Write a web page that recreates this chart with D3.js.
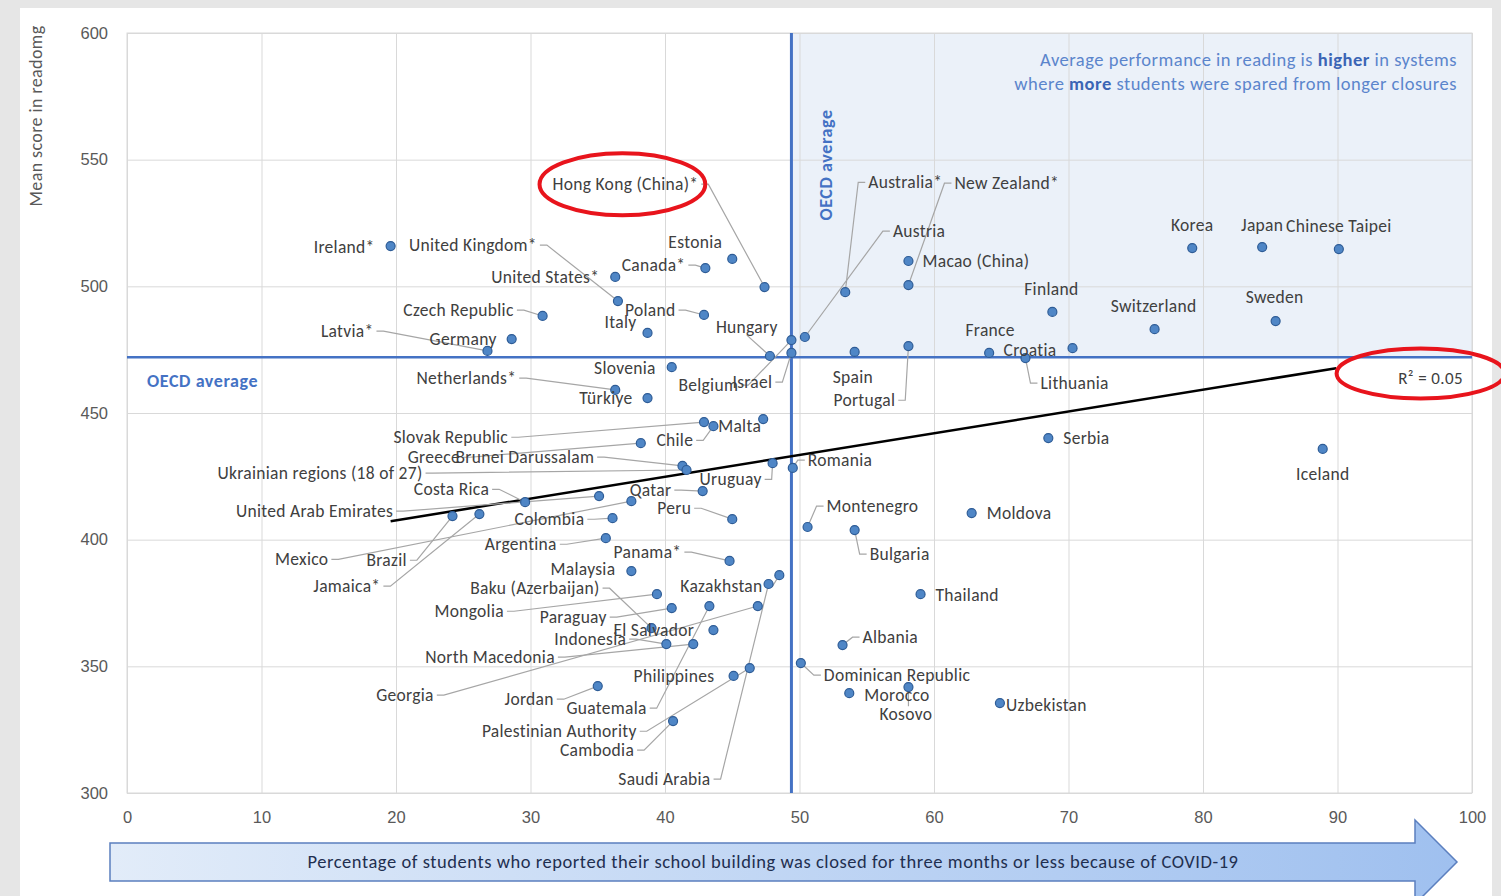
<!DOCTYPE html>
<html>
<head>
<meta charset="utf-8">
<script src="https://cdn.jsdelivr.net/npm/d3@7"></script>
<style>
  body { margin: 0; background: #e6e6e6; }
  svg { display: block; font-family: Carlito, Calibri, Lato, sans-serif; }
  .tick text { fill: #595959; font-size: 16.5px; }
  .lbl { fill: #404040; font-size: 17.5px; letter-spacing: 0.3px; }
</style>
</head>
<body>
<svg id="chart" width="1501" height="896"></svg>
<script>
// ---- data ----
const countries = [
  "Ireland*", "United Kingdom*", "United States*", "Canada*", "Estonia", "Hong Kong (China)*",
  "Czech Republic", "Poland", "Italy", "Germany", "Latvia*", "Hungary", "Belgium", "Israel",
  "Slovenia", "Netherlands*", "Türkiye", "Slovak Republic", "Chile", "Malta", "Greece",
  "Brunei Darussalam", "Ukrainian regions (18 of 27)", "Uruguay", "Romania", "Costa Rica",
  "Qatar", "United Arab Emirates", "Peru", "Colombia", "Mexico", "Montenegro", "Moldova",
  "Argentina", "Brazil", "Jamaica*", "Panama*", "Bulgaria", "Malaysia", "Kazakhstan",
  "Saudi Arabia", "Baku (Azerbaijan)", "Thailand", "Mongolia", "Paraguay", "El Salvador",
  "Indonesia", "Albania", "North Macedonia", "Philippines", "Dominican Republic", "Georgia",
  "Jordan", "Morocco", "Kosovo", "Uzbekistan", "Guatemala", "Palestinian Authority",
  "Cambodia", "Australia*", "New Zealand*", "Austria", "Macao (China)", "Korea", "Japan",
  "Chinese Taipei", "Finland", "Switzerland", "Sweden", "France", "Croatia", "Lithuania",
  "Spain", "Portugal", "Serbia", "Iceland"
];
// % of students whose school was closed three months or less
const closedShort = [
  19.6, 36.5, 36.3, 43.0, 45.0, 47.4,
  30.9, 42.9, 38.7, 28.6, 26.8, 47.8, 49.4, 49.4,
  40.5, 36.3, 38.7, 42.9, 43.6, 47.3, 38.2,
  41.3, 41.6, 48.0, 49.5, 29.6,
  42.8, 35.1, 45.0, 36.1, 37.5, 50.6, 62.8,
  35.6, 24.2, 26.2, 44.8, 54.1, 37.5, 48.5,
  47.7, 39.0, 59.0, 39.4, 40.5, 43.6,
  40.1, 53.2, 42.1, 45.1, 50.1, 46.9,
  35.0, 53.7, 58.1, 64.9, 43.3, 46.3,
  40.6, 53.4, 58.1, 50.4, 58.1, 79.2, 84.4,
  90.1, 68.8, 76.4, 85.4, 64.1, 70.3, 66.8,
  54.1, 58.1, 68.5, 88.9
];
// mean score in reading
const readScore = [
  515.9, 494.2, 503.7, 507.2, 510.8, 499.7,
  488.3, 488.7, 481.6, 479.2, 474.5, 472.5, 478.8, 473.7,
  468.1, 459.1, 455.9, 446.4, 444.8, 447.6, 438.1,
  429.1, 427.5, 430.2, 428.3, 414.8,
  419.2, 417.2, 408.1, 408.5, 415.2, 405.0, 410.5,
  400.6, 409.3, 410.1, 391.6, 403.8, 387.6, 386.0,
  382.5, 365.1, 378.5, 378.5, 373.0, 364.3,
  358.8, 358.4, 358.8, 346.2, 351.3, 373.8,
  342.2, 339.4, 341.8, 335.5, 373.8, 349.3,
  328.4, 497.7, 500.5, 480.0, 510.0, 515.1, 515.5,
  514.7, 489.9, 483.1, 486.3, 473.7, 475.6, 471.7,
  474.1, 476.4, 440.1, 435.8
];
const xTicks = [0, 10, 20, 30, 40, 50, 60, 70, 80, 90, 100];
const yTicks = [300, 350, 400, 450, 500, 550, 600];
const oecdX = 49.4;
const oecdY = 472;
const trendX = [19.6, 89.9];
const trendY = [407.3, 467.7];
const r2Label = "R² = 0.05";

// ---- label placement: pixel offset from point, anchor, leader line ----
const labelLayout = {
  "Ireland*": [-16, 1, "end", 0], "United Kingdom*": [-209, -56, "start", 1],
  "United States*": [-16, 0, "end", 0], "Canada*": [-20, -3, "end", 1],
  "Estonia": [-37, -17, "middle", 0], "Hong Kong (China)*": [-212, -103, "start", 1],
  "Czech Republic": [-29, -6, "end", 1], "Poland": [-79, -5, "start", 1],
  "Italy": [-11, -11, "end", 0], "Germany": [-15, 0, "end", 0],
  "Latvia*": [-114, -20, "end", 1], "Hungary": [-54, -29, "start", 1],
  "Belgium": [-113, 45, "start", 1], "Israel": [-59, 29, "start", 1],
  "Slovenia": [-16, 1, "end", 0], "Netherlands*": [-99, -12, "end", 1],
  "Türkiye": [-15, 0, "end", 0], "Slovak Republic": [-196, 15, "end", 1],
  "Chile": [-57, 14, "start", 1], "Malta": [-45, 7, "start", 0],
  "Greece": [-233, 14, "start", 1], "Brunei Darussalam": [-227, -9, "start", 1],
  "Ukrainian regions (18 of 27)": [-264, 3, "end", 1], "Uruguay": [-73, 16, "start", 1],
  "Romania": [15, -8, "start", 1], "Costa Rica": [-36, -13, "end", 1],
  "Qatar": [-73, -1, "start", 1], "United Arab Emirates": [-206, 15, "end", 1],
  "Peru": [-75, -11, "start", 1], "Colombia": [-98, 1, "start", 1],
  "Mexico": [-303, 58, "end", 1], "Montenegro": [19, -21, "start", 1],
  "Moldova": [15, 0, "start", 0], "Argentina": [-49, 6, "end", 1],
  "Brazil": [-86, 44, "start", 1], "Jamaica*": [-99, 72, "end", 1],
  "Panama*": [-116, -9, "start", 1], "Bulgaria": [15, 24, "start", 1],
  "Malaysia": [-16, -2, "end", 0], "Kazakhstan": [-99, 11, "start", 1],
  "Saudi Arabia": [-58, 195, "end", 1], "Baku (Azerbaijan)": [-52, -40, "end", 1],
  "Thailand": [15, 1, "start", 0], "Mongolia": [-153, 17, "end", 1],
  "Paraguay": [-132, 9, "start", 1], "El Salvador": [-100, 0, "start", 0],
  "Indonesia": [-112, -5, "start", 1], "Albania": [20, -8, "start", 1],
  "North Macedonia": [-268, 13, "start", 1], "Philippines": [-100, 0, "start", 0],
  "Dominican Republic": [23, 12, "start", 1], "Georgia": [-324, 89, "end", 1],
  "Jordan": [-44, 13, "end", 1], "Morocco": [15, 2, "start", 0],
  "Kosovo": [-29, 27, "start", 1], "Uzbekistan": [6, 2, "start", 0],
  "Guatemala": [-143, 102, "start", 1], "Palestinian Authority": [-113, 63, "end", 1],
  "Cambodia": [-39, 29, "end", 1], "Australia*": [23, -110, "start", 1],
  "New Zealand*": [46, -102, "start", 1], "Austria": [88, -106, "start", 1],
  "Macao (China)": [14, 0, "start", 0], "Korea": [0, -23, "middle", 0],
  "Japan": [0, -22, "middle", 0], "Chinese Taipei": [0, -23, "middle", 0],
  "Finland": [-1, -23, "middle", 0], "Switzerland": [-1, -23, "middle", 0],
  "Sweden": [-1, -24, "middle", 0], "France": [1, -23, "middle", 0],
  "Croatia": [-16, 2, "end", 0], "Lithuania": [15, 25, "start", 1],
  "Spain": [-22, 25, "start", 0], "Portugal": [-75, 54, "start", 1],
  "Serbia": [15, 0, "start", 0], "Iceland": [0, 25, "middle", 0]
};

const points = countries.map((c, i) => ({ name: c, x: closedShort[i], y: readScore[i] }));

const svg = d3.select("#chart");
const blue = "#4472c4";
const plot = { left: 127, right: 1472, top: 33, bottom: 793 };

const xScale = d3.scaleLinear().domain([0, 100]).range([plot.left, plot.right]);
const yScale = d3.scaleLinear().domain([300, 600]).range([plot.bottom, plot.top]);

// white card
svg.append("rect").attr("x", 20).attr("y", 8).attr("width", 1472).attr("height", 900).attr("fill", "#fff");

// shaded quadrant
svg.append("rect")
  .attr("x", xScale(oecdX)).attr("y", yScale(600))
  .attr("width", xScale(100) - xScale(oecdX)).attr("height", yScale(oecdY) - yScale(600))
  .attr("fill", "#ebf1f9");

// grid
const xAxis = d3.axisBottom(xScale).tickValues(xTicks).tickSize(-(plot.bottom - plot.top)).tickPadding(18);
const yAxis = d3.axisLeft(yScale).tickValues(yTicks).tickSize(-(plot.right - plot.left)).tickPadding(19);
const gx = svg.append("g").attr("transform", `translate(0,${plot.bottom})`).call(xAxis);
const gy = svg.append("g").attr("transform", `translate(${plot.left},0)`).call(yAxis);
[gx, gy].forEach(g => {
  g.select(".domain").remove();
  g.selectAll(".tick line").attr("stroke", "#d9d9d9");
});
svg.append("rect")
  .attr("x", plot.left).attr("y", plot.top)
  .attr("width", plot.right - plot.left).attr("height", plot.bottom - plot.top)
  .attr("fill", "none").attr("stroke", "#d9d9d9");

// y axis title
svg.append("text")
  .attr("transform", `translate(42,116)rotate(-90)`)
  .attr("text-anchor", "middle").attr("fill", "#595959")
  .attr("font-size", 18).attr("letter-spacing", 0.4)
  .text("Mean score in readomg");

// OECD average lines
svg.append("line")
  .attr("x1", xScale(oecdX)).attr("x2", xScale(oecdX))
  .attr("y1", plot.top).attr("y2", plot.bottom)
  .attr("stroke", blue).attr("stroke-width", 3);
svg.append("line")
  .attr("x1", plot.left).attr("x2", plot.right)
  .attr("y1", yScale(oecdY)).attr("y2", yScale(oecdY))
  .attr("stroke", blue).attr("stroke-width", 2.5);
svg.append("text")
  .attr("x", plot.left + 20).attr("y", yScale(oecdY) + 30)
  .attr("fill", blue).attr("font-size", 18).attr("letter-spacing", 0.6).attr("font-weight", 600)
  .text("OECD average");
svg.append("text")
  .attr("transform", `translate(${xScale(oecdX) + 41},165)rotate(-90)`)
  .attr("text-anchor", "middle").attr("fill", blue)
  .attr("font-size", 18).attr("letter-spacing", 0.6).attr("font-weight", 600)
  .text("OECD average");

// trend line
svg.append("line")
  .attr("x1", xScale(trendX[0])).attr("y1", yScale(trendY[0]))
  .attr("x2", xScale(trendX[1])).attr("y2", yScale(trendY[1]))
  .attr("stroke", "#000").attr("stroke-width", 2.5);

// labels + leaders
const leaderG = svg.append("g");
const dotG = svg.append("g");
const labelG = svg.append("g");

points.forEach(d => {
  const px = xScale(d.x), py = yScale(d.y);
  const lay = labelLayout[d.name] || [8, 0, "start", 0];
  const t = labelG.append("text")
    .attr("class", "lbl")
    .attr("x", px + lay[0]).attr("y", py + lay[1])
    .attr("dy", "0.35em")
    .attr("text-anchor", lay[2])
    .text(d.name);
  d.labelNode = t;
  if (lay[3]) {
    const b = t.node().getBBox();
    const cy = b.y + b.height / 2;
    let pts;
    if (px > b.x + b.width + 2) {
      const sx = b.x + b.width + 3;
      pts = [[sx, cy], [sx + 7, cy], [px, py]];
    } else if (px < b.x - 2) {
      const sx = b.x - 3;
      pts = [[sx, cy], [sx - 7, cy], [px, py]];
    } else if (py < b.y) {
      pts = [[px, b.y + 3], [px, py]];
    } else {
      const cx = b.x + b.width / 2;
      pts = [[cx, b.y + b.height - 3], [px, py]];
    }
    leaderG.append("path")
      .attr("d", d3.line()(pts))
      .attr("fill", "none").attr("stroke", "#a6a6a6").attr("stroke-width", 1.2);
  }
});

dotG.selectAll("circle").data(points).enter()
  .append("circle")
  .attr("cx", d => xScale(d.x))
  .attr("cy", d => yScale(d.y))
  .attr("r", 4.5)
  .attr("fill", "#4f86c6")
  .attr("stroke", "#2e5c96")
  .attr("stroke-width", 1.2);

// top-right note
const note = svg.append("text").attr("text-anchor", "end")
  .attr("font-size", 18.5).attr("letter-spacing", 0.5).attr("fill", "#5b85cc");
const l1 = note.append("tspan").attr("x", 1457).attr("y", 66);
l1.append("tspan").text("Average performance in reading is ");
l1.append("tspan").attr("font-weight", 700).attr("fill", "#3b65b5").text("higher");
l1.append("tspan").text(" in systems");
const l2 = note.append("tspan").attr("x", 1457).attr("y", 90);
l2.append("tspan").text("where ");
l2.append("tspan").attr("font-weight", 700).attr("fill", "#3b65b5").text("more");
l2.append("tspan").text(" students were spared from longer closures");

// R² label
const r2 = svg.append("text")
  .attr("x", 1463).attr("y", 378).attr("dy", "0.35em")
  .attr("text-anchor", "end").attr("font-size", 17).attr("letter-spacing", 0.4).attr("fill", "#404040")
  .text(r2Label);

// red highlight ellipses
const hk = points.find(p => p.name === "Hong Kong (China)*").labelNode.node().getBBox();
svg.append("ellipse")
  .attr("cx", hk.x + hk.width / 2 - 3).attr("cy", hk.y + hk.height / 2)
  .attr("rx", hk.width / 2 + 10).attr("ry", 31)
  .attr("fill", "none").attr("stroke", "#e8141c").attr("stroke-width", 4);
const rb = r2.node().getBBox();
svg.append("ellipse")
  .attr("cx", rb.x + rb.width / 2 - 10).attr("cy", rb.y + rb.height / 2 - 5)
  .attr("rx", 84).attr("ry", 25)
  .attr("fill", "none").attr("stroke", "#e8141c").attr("stroke-width", 4);

// bottom arrow
const defs = svg.append("defs");
const grad = defs.append("linearGradient").attr("id", "arrowGrad");
grad.append("stop").attr("offset", "0%").attr("stop-color", "#e2ecf9");
grad.append("stop").attr("offset", "100%").attr("stop-color", "#9fc0ef");
const ax0 = 110, ax1 = 1415, tip = 1457, by0 = 843, by1 = 881, hy0 = 820, hy1 = 904;
svg.append("path")
  .attr("d", `M${ax0},${by0}H${ax1}V${hy0}L${tip},${(by0 + by1) / 2}L${ax1},${hy1}V${by1}H${ax0}Z`)
  .attr("fill", "url(#arrowGrad)").attr("stroke", "#5b7fbf").attr("stroke-width", 1.5);
svg.append("text")
  .attr("x", 773).attr("y", (by0 + by1) / 2).attr("dy", "0.35em")
  .attr("text-anchor", "middle").attr("font-size", 18.5).attr("letter-spacing", 0.55).attr("fill", "#1f2f50")
  .text("Percentage of students who reported their school building was closed for three months or less because of COVID-19");
</script>
</body>
</html>
